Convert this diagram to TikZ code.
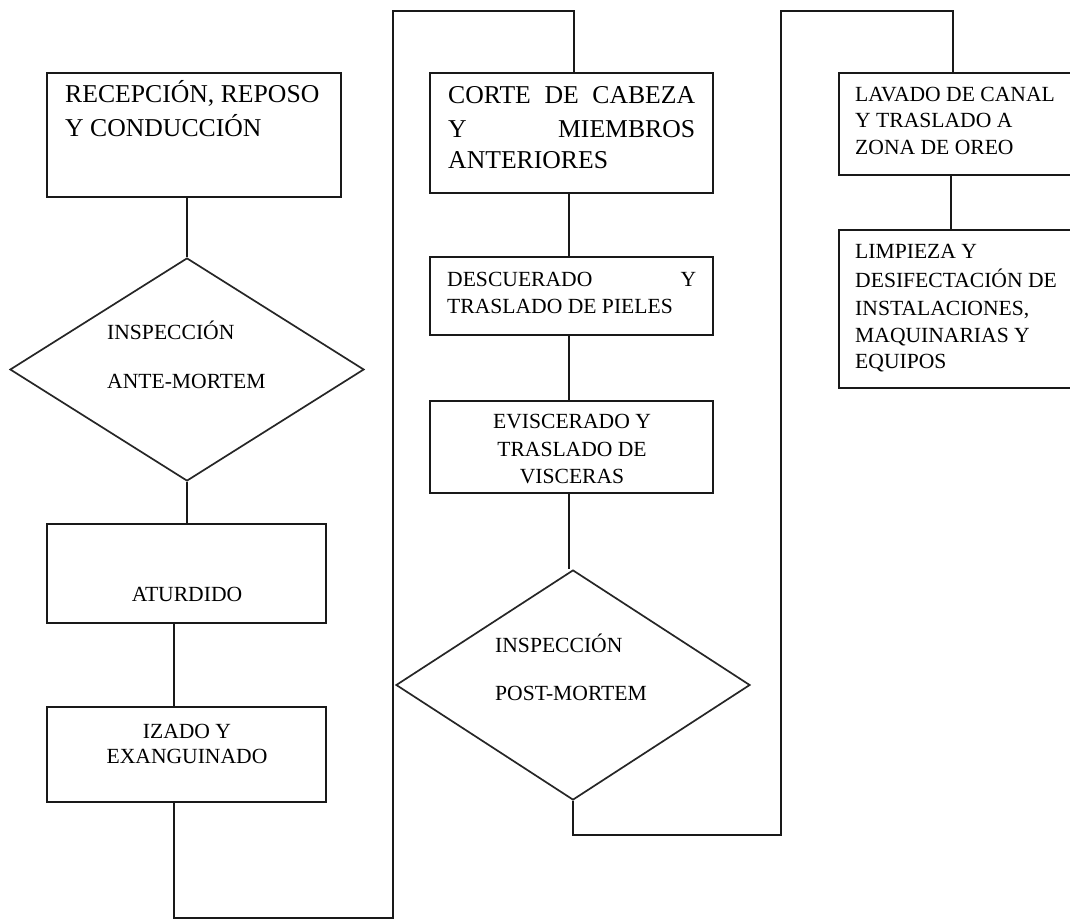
\documentclass[tikz,border=0pt]{standalone}
\usepackage{fontspec}
\setmainfont{Liberation Serif}
\usetikzlibrary{shapes.geometric}

\begin{document}
\begin{tikzpicture}[x=1pt,y=-1pt,
  stage/.style={draw=black!90, line width=2pt, rectangle, inner sep=0pt, fill=white},
  check/.style={draw=black!85, line width=1.7pt, diamond, inner sep=0pt, fill=white},
  link/.style={draw=black!90, line width=2pt},
  bigtxt/.style={inner sep=0pt, font=\fontsize{25.7}{30}\selectfont},
  smalltxt/.style={inner sep=0pt, font=\fontsize{21.6}{27}\selectfont}]

\useasboundingbox (0,0) rectangle (1070,920);

% process stages
\node[stage, minimum width=294pt, minimum height=124pt] (recep) at (194,135) {};
\node[check, minimum width=354pt, minimum height=223pt] (ante) at (187,369.5) {};
\node[stage, minimum width=279pt, minimum height=99pt] (aturdido) at (186.5,573.5) {};
\node[stage, minimum width=279pt, minimum height=95pt] (izado) at (186.5,754.5) {};
\node[stage, minimum width=283pt, minimum height=120pt] (corte) at (571.5,133) {};
\node[stage, minimum width=283pt, minimum height=78pt] (descuer) at (571.5,296) {};
\node[stage, minimum width=283pt, minimum height=92pt] (visc) at (571.5,447) {};
\node[check, minimum width=354pt, minimum height=230pt] (post) at (573,685) {};
\node[stage, minimum width=234pt, minimum height=102pt] (lavado) at (956,124) {};
\node[stage, minimum width=234pt, minimum height=158pt] (limpieza) at (956,309) {};

% bends of the long return lines
\coordinate (bendA) at (393,918);
\coordinate (bendB) at (393,11);
\coordinate (bendC) at (781,835);
\coordinate (bendD) at (781,11);

% connectors
\draw[link] (recep.south -| ante.north) -- (ante.north);
\draw[link] (ante.south) -- (ante.south |- aturdido.north);
\draw[link] ([xshift=-12.5pt]aturdido.south) -- ([xshift=-12.5pt]izado.north);
\draw[link] ([xshift=-12.5pt]izado.south) |- (bendA) -- (bendB) -| ([xshift=2pt]corte.north);
\draw[link] ([xshift=-3pt]corte.south) -- ([xshift=-3pt]descuer.north);
\draw[link] ([xshift=-3pt]descuer.south) -- ([xshift=-3pt]visc.north);
\draw[link] ([xshift=-3pt]visc.south) -- ([xshift=-3pt]visc.south |- post.north);
\draw[link] (post.south) |- (bendC) -- (bendD) -| ([xshift=-3pt]lavado.north);
\draw[link] ([xshift=-5pt]lavado.south) -- ([xshift=-5pt]limpieza.north);

% labels
\node[bigtxt, anchor=base west] (recepA) at (65,103) {RECEPCIÓN, REPOSO};
\node[bigtxt, anchor=base west] (recepB) at (65,137) {Y CONDUCCIÓN};

\node[smalltxt, anchor=base west] (anteA) at (107,339) {INSPECCIÓN};
\node[smalltxt, anchor=base west] (anteB) at (107,388) {ANTE-MORTEM};

\node[smalltxt, anchor=base] (aturdidoA) at (187,601) {ATURDIDO};

\node[smalltxt, anchor=base] (izadoA) at (187,738) {IZADO Y};
\node[smalltxt, anchor=base] (izadoB) at (187,763) {EXANGUINADO};

\node[bigtxt, anchor=base west] (corteA) at (448,104) {\hbox to 247pt{CORTE\hfill DE\hfill CABEZA}};
\node[bigtxt, anchor=base west] (corteB) at (448,138) {\hbox to 247pt{Y\hfill MIEMBROS}};
\node[bigtxt, anchor=base west] (corteC) at (448,168) {ANTERIORES};

\node[smalltxt, anchor=base west] (descuerA) at (447,286) {\hbox to 249pt{DESCUERADO\hfill Y}};
\node[smalltxt, anchor=base west] (descuerB) at (447,313) {TRASLADO DE PIELES};

\node[smalltxt, anchor=base] (viscA) at (572,428) {EVISCERADO Y};
\node[smalltxt, anchor=base] (viscB) at (572,456) {TRASLADO DE};
\node[smalltxt, anchor=base] (viscC) at (572,483) {VISCERAS};

\node[smalltxt, anchor=base west] (postA) at (495,652) {INSPECCIÓN};
\node[smalltxt, anchor=base west] (postB) at (495,700) {POST-MORTEM};

\node[smalltxt, anchor=base west] (lavadoA) at (855,102) {LAVADO DE CANAL};
\node[smalltxt, anchor=base west] (lavadoB) at (855,128) {Y TRASLADO A};
\node[smalltxt, anchor=base west] (lavadoC) at (855,155) {ZONA DE OREO};

\node[smalltxt, anchor=base west] (limpA) at (855,258) {LIMPIEZA Y};
\node[smalltxt, anchor=base west] (limpB) at (855,287) {DESIFECTACIÓN DE};
\node[smalltxt, anchor=base west] (limpC) at (855,315) {INSTALACIONES,};
\node[smalltxt, anchor=base west] (limpD) at (855,342) {MAQUINARIAS Y};
\node[smalltxt, anchor=base west] (limpE) at (855,368) {EQUIPOS};
\end{tikzpicture}
\end{document}
